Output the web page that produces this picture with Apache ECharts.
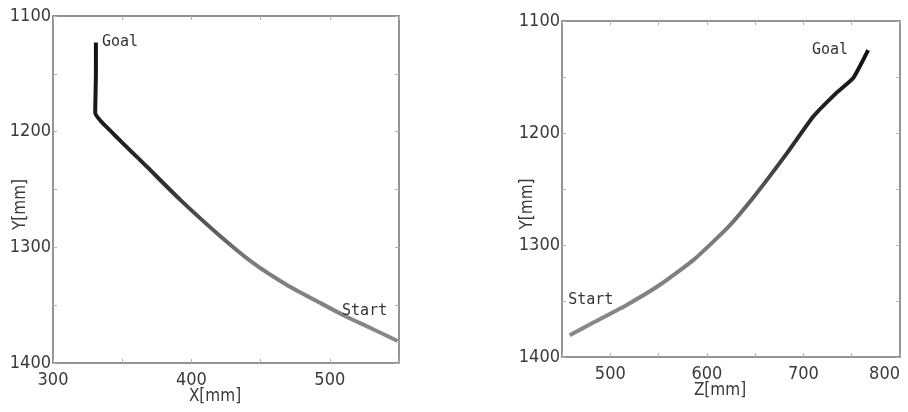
<!DOCTYPE html>
<html>
<head>
<meta charset="utf-8">
<script src="https://cdn.jsdelivr.net/npm/echarts@6/dist/echarts.min.js"></script>
<style>
html,body{margin:0;padding:0;background:#fff}
#chart{width:908px;height:412px}
</style>
</head>
<body>
<div id="chart"></div>
<script>
// Hand trajectory seen from the front (X-Y) and from the side (Z-Y), goal -> start
const leftX = [331, 331, 330.5, 343, 368, 392, 420.5, 444.5, 469, 493, 512, 529, 549];
const leftY = [1123, 1150, 1183.5, 1201, 1230.5, 1259, 1290, 1313.5, 1332.5, 1348, 1360, 1369.5, 1381];

// start -> goal
const rightZ = [458, 482, 517, 551.5, 586, 621, 650, 683, 710, 735, 751.5, 767];
const rightY = [1380.5, 1369.5, 1353.5, 1335.5, 1313.5, 1285, 1255.5, 1218, 1185.5, 1163.5, 1151, 1126];

const endNames = { goal: 'Goal', start: 'Start' };
const axisNames = { x: 'X[mm]', z: 'Z[mm]', y: 'Y[mm]' };
const yRange = [1100, 1400];
const xRange = [300, 550];
const zRange = [450, 800];
const tickStep = 50;
const labelStep = 100;

const tickFont = "'Liberation Sans Narrow', 'DejaVu Sans Condensed', sans-serif";
const markFont = "'DejaVu Sans Mono', 'Liberation Mono', monospace";
const frameColor = '#707070';

function labelEvery(v) { return v % labelStep === 0 ? String(v) : ''; }

function valueAxis(gridIndex, range, position, opts) {
  const main = position === 'bottom' || position === 'left';
  return Object.assign({
    type: 'value',
    gridIndex: gridIndex,
    position: position,
    min: range[0],
    max: range[1],
    interval: tickStep,
    nameMoveOverlap: false,
    splitLine: { show: false },
    axisLine: { show: true, onZero: false, lineStyle: { color: frameColor, width: 1.5 } },
    axisTick: { show: true, inside: true, length: 4, lineStyle: { color: '#b0b0b0', width: 1 } },
    axisLabel: {
      show: main,
      formatter: labelEvery,
      showMinLabel: true,
      showMaxLabel: true,
      hideOverlap: false,
      fontFamily: tickFont,
      fontSize: 18,
      color: '#3a3a3a',
      margin: position === 'bottom' ? 8 : 2
    }
  }, opts || {});
}

function pathData(xs, ys, labels) {
  return xs.map(function (x, i) {
    const item = { value: [x, ys[i]] };
    if (labels[i]) {
      item.label = Object.assign({
        show: true,
        formatter: labels[i].text,
        fontFamily: markFont,
        fontSize: 15,
        color: '#333'
      }, labels[i].style);
    }
    return item;
  });
}

const leftLabels = {};
leftLabels[0] = { text: endNames.goal, style: { position: 'right', distance: 6 } };
leftLabels[leftX.length - 1] = { text: endNames.start, style: { position: 'top', distance: 22, offset: [-33, 0] } };

const rightLabels = {};
rightLabels[0] = { text: endNames.start, style: { position: 'top', distance: 28, offset: [21, 0] } };
rightLabels[rightZ.length - 1] = { text: endNames.goal, style: { position: 'left', distance: 20 } };

const chart = echarts.init(document.getElementById('chart'), null, { renderer: 'canvas' });

const nameStyle = { fontFamily: tickFont, fontSize: 17, color: '#3a3a3a' };

const zBottom = valueAxis(1, zRange, 'bottom', {
  name: axisNames.z, nameLocation: 'middle', nameGap: 25,
  nameTextStyle: Object.assign({ padding: [0, 22, 0, 0] }, nameStyle)
});
zBottom.axisLabel.alignMaxLabel = 'right';

chart.setOption({
  animation: false,
  backgroundColor: '#fff',
  grid: [
    { left: 53, top: 16, width: 346, height: 347, containLabel: false, outerBoundsMode: 'none' },
    { left: 562, top: 21, width: 338, height: 336, containLabel: false, outerBoundsMode: 'none' }
  ],
  xAxis: [
    valueAxis(0, xRange, 'bottom', {
      name: axisNames.x, nameLocation: 'middle', nameGap: 25,
      nameTextStyle: Object.assign({ padding: [0, 22, 0, 0] }, nameStyle)
    }),
    valueAxis(0, xRange, 'top'),
    zBottom,
    valueAxis(1, zRange, 'top')
  ],
  yAxis: [
    valueAxis(0, yRange, 'left', {
      inverse: true, name: axisNames.y, nameLocation: 'middle', nameGap: 24, nameRotate: 90,
      nameTextStyle: Object.assign({ padding: [0, 0, 0, -30] }, nameStyle)
    }),
    valueAxis(0, yRange, 'right', { inverse: true }),
    valueAxis(1, yRange, 'left', {
      inverse: true, name: axisNames.y, nameLocation: 'middle', nameGap: 26, nameRotate: 90,
      nameTextStyle: Object.assign({ padding: [0, 0, 0, -30] }, nameStyle)
    }),
    valueAxis(1, yRange, 'right', { inverse: true })
  ],
  series: [
    {
      type: 'line',
      xAxisIndex: 0,
      yAxisIndex: 0,
      data: pathData(leftX, leftY, leftLabels),
      symbol: 'circle',
      symbolSize: 0,
      showSymbol: true,
      smooth: 0.2,
      lineStyle: {
        width: 4,
        color: new echarts.graphic.LinearGradient(0, 0, 1, 1, [
          { offset: 0, color: '#111' },
          { offset: 0.35, color: '#2e2e2e' },
          { offset: 0.62, color: '#7c7c7c' },
          { offset: 1, color: '#8a8a8a' }
        ])
      },
      z: 3
    },
    {
      type: 'line',
      xAxisIndex: 2,
      yAxisIndex: 2,
      data: pathData(rightZ, rightY, rightLabels),
      symbol: 'circle',
      symbolSize: 0,
      showSymbol: true,
      smooth: 0.15,
      lineStyle: {
        width: 4,
        color: new echarts.graphic.LinearGradient(0, 1, 1, 0, [
          { offset: 0, color: '#8a8a8a' },
          { offset: 0.45, color: '#7a7a7a' },
          { offset: 0.72, color: '#2a2a2a' },
          { offset: 1, color: '#111' }
        ])
      },
      z: 3
    }
  ]
});
</script>
</body>
</html>
